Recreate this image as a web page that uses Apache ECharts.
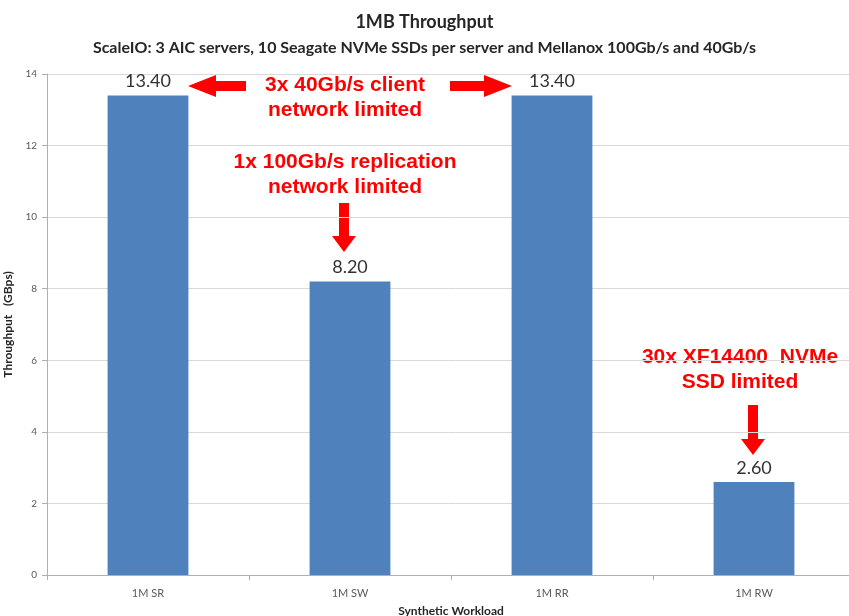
<!DOCTYPE html>
<html>
<head>
<meta charset="utf-8">
<script src="https://cdn.jsdelivr.net/npm/echarts@6/dist/echarts.min.js"></script>
<style>
  html, body { margin: 0; padding: 0; background: #fff; }
  #chart { width: 849px; height: 616px; }
</style>
</head>
<body>
<div id="chart"></div>
<script>
// data
const workloads = ["1M SR", "1M SW", "1M RR", "1M RW"];
const throughput = [13.4, 8.2, 13.4, 2.6];
const yTicks = [0, 2, 4, 6, 8, 10, 12, 14];

const red = "#ff0000";
const chart = echarts.init(document.getElementById("chart"));

// arrow helpers (pixel shapes for the red callouts)
const hArrow = (x1, x2, y) => {
  // x1 = tail, x2 = tip
  const dir = x2 > x1 ? 1 : -1;
  const headLen = 28, body = 5, head = 11;
  const hx = x2 - dir * headLen;
  return {
    type: "polygon",
    shape: { points: [[x1, y - body], [hx, y - body], [hx, y - head], [x2, y], [hx, y + head], [hx, y + body], [x1, y + body]] },
    style: { fill: red },
  };
};
const vArrow = (x, y1, y2) => {
  const headLen = 16, body = 5, head = 12;
  const hy = y2 - headLen;
  return {
    type: "polygon",
    shape: { points: [[x - body, y1], [x + body, y1], [x + body, hy], [x + head, hy], [x, y2], [x - head, hy], [x - body, hy]] },
    style: { fill: red },
  };
};
const note = (x, y, text) => ({
  type: "text",
  x: x,
  y: y,
  style: {
    text: text,
    fill: red,
    font: "bold 21px 'Liberation Sans', Arial, sans-serif",
    align: "center",
    verticalAlign: "top",
    lineHeight: 25,
  },
});

const option = {
  animation: false,
  title: [
    {
      text: "1MB Throughput",
      left: "center",
      top: 8,
      textStyle: { fontFamily: "Lato", fontWeight: "bold", fontSize: 18, color: "#262626" },
    },
    {
      text: "ScaleIO: 3 AIC servers, 10 Seagate NVMe SSDs per server and Mellanox 100Gb/s and 40Gb/s",
      left: "center",
      top: 35,
      textStyle: { fontFamily: "Lato", fontWeight: "bold", fontSize: 16, color: "#262626" },
    },
  ],
  grid: { left: 47, right: -6, top: 74, bottom: 41, containLabel: false, outerBoundsMode: "none" },
  xAxis: {
    type: "category",
    data: workloads,
    name: "Synthetic Workload",
    nameLocation: "middle",
    nameGap: 30,
    nameTextStyle: { fontFamily: "Lato", fontWeight: "bold", fontSize: 12, color: "#262626" },
    axisLine: { lineStyle: { color: "#b0b0b0" } },
    axisTick: { show: true, length: 5, lineStyle: { color: "#b0b0b0" } },
    axisLabel: { fontFamily: "Lato", fontSize: 11, color: "#595959", margin: 13 },
  },
  yAxis: {
    type: "value",
    min: 0,
    max: yTicks[yTicks.length - 1],
    interval: yTicks[1] - yTicks[0],
    name: "Throughput   (GBps)",
    nameLocation: "middle",
    nameGap: 24,
    nameTextStyle: { fontFamily: "Lato", fontWeight: "bold", fontSize: 12, color: "#262626" },
    axisLine: { show: true, lineStyle: { color: "#b0b0b0" } },
    axisTick: { show: true, length: 5, lineStyle: { color: "#b0b0b0" } },
    axisLabel: { fontFamily: "Lato", fontSize: 10, color: "#595959", margin: 10 },
    splitLine: { lineStyle: { color: "#d9d9d9", width: 1 } },
  },
  series: [
    {
      type: "bar",
      data: throughput,
      barWidth: "40%",
      itemStyle: { color: "#4f81bd" },
      label: {
        show: true,
        position: "top",
        distance: 5,
        formatter: (p) => p.value.toFixed(2),
        fontFamily: "Lato",
        fontSize: 18,
        color: "#333",
      },
    },
  ],
  graphic: [
    note(345, 73, "3x 40Gb/s client\nnetwork limited"),
    hArrow(246, 188, 86),
    hArrow(450, 512, 86),
    note(345, 150, "1x 100Gb/s replication\nnetwork limited"),
    vArrow(344, 203, 252),
    note(740, 345, "30x XF14400  NVMe\nSSD limited"),
    vArrow(753, 405, 455),
  ],
};

chart.setOption(option);
</script>
</body>
</html>
